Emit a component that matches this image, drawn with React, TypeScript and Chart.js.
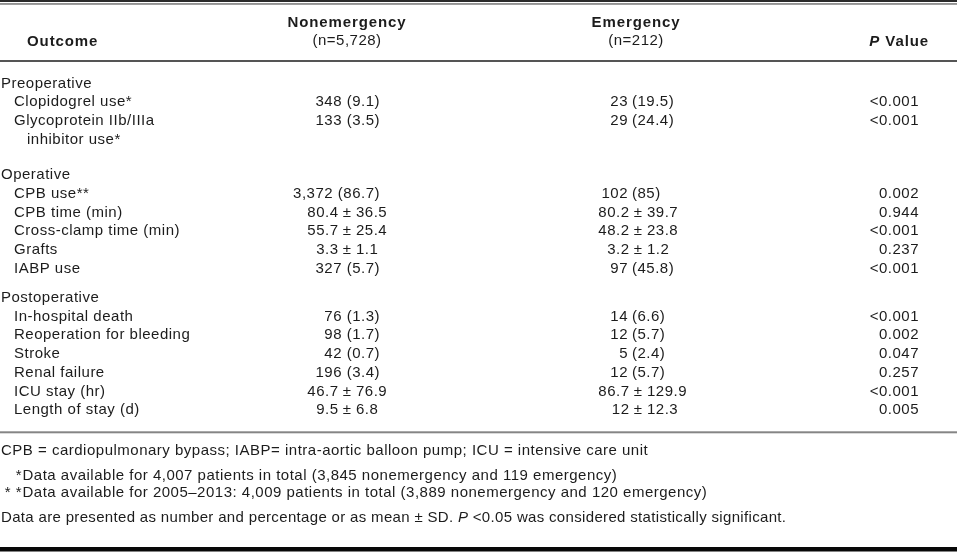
import React, { useEffect, useRef } from "react";
import { Chart, registerables } from "chart.js";

Chart.register(...registerables);

// ---- Table content ----
const columnTitles = ["Outcome", "Nonemergency", "Emergency", "P Value"];
const groupSizes = ["(n=5,728)", "(n=212)"];
const sections = ["Preoperative", "Operative", "Postoperative"];
const outcomes = [
  "Clopidogrel use*",
  "Glycoprotein IIb/IIIa|inhibitor use*",
  "CPB use**",
  "CPB time (min)",
  "Cross-clamp time (min)",
  "Grafts",
  "IABP use",
  "In-hospital death",
  "Reoperation for bleeding",
  "Stroke",
  "Renal failure",
  "ICU stay (hr)",
  "Length of stay (d)",
];
const outcomeSection = [0, 0, 1, 1, 1, 1, 1, 2, 2, 2, 2, 2, 2];
// "n" = number (percentage), "m" = mean ± SD
const outcomeKind = ["n", "n", "n", "m", "m", "m", "n", "n", "n", "n", "n", "m", "m"];
const nonEmergencyMain = [348, 133, 3372, 80.4, 55.7, 3.3, 327, 76, 98, 42, 196, 46.7, 9.5];
const nonEmergencySub = [9.1, 3.5, 86.7, 36.5, 25.4, 1.1, 5.7, 1.3, 1.7, 0.7, 3.4, 76.9, 6.8];
const emergencyMain = [23, 29, 102, 80.2, 48.2, 3.2, 97, 14, 12, 5, 12, 86.7, 12];
const emergencySub = [19.5, 24.4, 85, 39.7, 23.8, 1.2, 45.8, 6.6, 5.7, 2.4, 5.7, 129.9, 12.3];
const pValues = [
  "<0.001", "<0.001",
  "0.002", "0.944", "<0.001", "0.237", "<0.001",
  "<0.001", "0.002", "0.047", "0.257", "<0.001", "0.005",
];
const footnotes = [
  { mark: "", text: "CPB = cardiopulmonary bypass; IABP= intra-aortic balloon pump; ICU = intensive care unit" },
  { mark: "*", text: "Data available for 4,007 patients in total (3,845 nonemergency and 119 emergency)" },
  { mark: "* *", text: "Data available for 2005\u20132013: 4,009 patients in total (3,889 nonemergency and 120 emergency)" },
];
const noteBefore = "Data are presented as number and percentage or as mean \u00b1 SD. ";
const noteItalic = "P";
const noteAfter = " <0.05 was considered statistically significant.";

const fmt = (v: number) => v.toLocaleString("en-US", { maximumFractionDigits: 1 });

const FONT = '"Liberation Sans", Arial, sans-serif';
const W = 958;
const H = 552;

const tablePlugin = {
  id: "tableDraw",
  afterDraw(chart: any) {
    const ctx: CanvasRenderingContext2D = chart.ctx;
    const xs = chart.scales.x;
    const ys = chart.scales.y;
    const X = (v: number) => xs.getPixelForValue(v);
    const Y = (v: number) => ys.getPixelForValue(v);
    const ink = "#1c1c1c";

    const setFont = (style: string, ls?: number) => {
      ctx.font = style + " 15px " + FONT;
      (ctx as any).letterSpacing = (ls !== undefined ? ls : style.includes("bold") ? 0.9 : 0.5) + "px";
    };
    const text = (s: string, x: number, y: number, align: CanvasTextAlign = "left") => {
      ctx.textAlign = align;
      ctx.fillText(s, X(x), Y(y));
    };
    const rule = (y: number, h: number, color: string) => {
      ctx.fillStyle = color;
      ctx.fillRect(X(0), Y(y), X(957) - X(0), h);
    };

    ctx.save();
    ctx.textBaseline = "alphabetic";

    // rules
    rule(0, 2, "#2a2a2a");
    rule(3.2, 1.5, "#777777");
    rule(60, 2, "#555555");
    rule(431.3, 2, "#858585");
    rule(547, 4.5, "#080808");

    ctx.fillStyle = ink;
    // header
    setFont("bold");
    text(columnTitles[0], 27, 45.5);
    text(columnTitles[1], 347, 26.5, "center");
    text(columnTitles[2], 636, 26.5, "center");
    const rest = columnTitles[3].slice(1);
    const restW = ctx.measureText(rest).width;
    text(rest, 929, 45.5, "right");
    setFont("italic bold");
    text(columnTitles[3][0], 929 - restW, 45.5, "right");
    setFont("");
    text(groupSizes[0], 347, 45, "center");
    text(groupSizes[1], 636, 45, "center");

    // body
    const lh = 18.7;
    const sectionBase = [87.5, 179.3, 302];
    const lineIdx = [0, 0, 0];
    sections.forEach((s, i) => text(s, 1, sectionBase[i]));

    outcomes.forEach((label, i) => {
      const sec = outcomeSection[i];
      lineIdx[sec] += 1;
      const y = sectionBase[sec] + lineIdx[sec] * lh;
      const parts = label.split("|");
      text(parts[0], 14, y);
      for (let k = 1; k < parts.length; k++) {
        lineIdx[sec] += 1;
        text(parts[k], 27, sectionBase[sec] + lineIdx[sec] * lh);
      }

      if (outcomeKind[i] === "n") {
        text(fmt(nonEmergencyMain[i]) + " (" + fmt(nonEmergencySub[i]) + ")", 380, y, "right");
        text(fmt(emergencyMain[i]), 628, y, "right");
        text("(" + fmt(emergencySub[i]) + ")", 632, y, "left");
      } else {
        text(fmt(nonEmergencyMain[i]), 338.5, y, "right");
        text("\u00b1", 347, y, "center");
        text(fmt(nonEmergencySub[i]), 356, y, "left");
        text(fmt(emergencyMain[i]), 629.5, y, "right");
        text("\u00b1", 638, y, "center");
        text(fmt(emergencySub[i]), 647, y, "left");
      }
      text(pValues[i], 919, y, "right");
    });

    // footnotes
    const footBase = [454.5, 480, 496.7];
    footnotes.forEach((f, i) => {
      if (f.mark) {
        text(f.mark, 22, footBase[i], "right");
        text(f.text, 22.5, footBase[i]);
      } else {
        text(f.text, 1, footBase[i]);
      }
    });
    const yN = 521.7;
    setFont("", 0.33);
    text(noteBefore, 1, yN);
    let cx = 1 + ctx.measureText(noteBefore).width;
    setFont("italic", 0.33);
    text(noteItalic, cx, yN);
    cx += ctx.measureText(noteItalic).width;
    setFont("", 0.33);
    text(noteAfter, cx, yN);

    ctx.restore();
  },
};

export default function App() {
  const ref = useRef<HTMLCanvasElement | null>(null);
  useEffect(() => {
    if (!ref.current) return;
    const chart = new Chart(ref.current, {
      type: "scatter",
      data: { datasets: [] },
      options: {
        responsive: false,
        animation: false,
        devicePixelRatio: 1,
        layout: { padding: 0 },
        plugins: { legend: { display: false }, tooltip: { enabled: false } },
        scales: {
          x: { type: "linear", display: false, min: 0, max: W },
          y: { type: "linear", display: false, min: 0, max: H, reverse: true },
        },
      },
      plugins: [tablePlugin],
    });
    return () => chart.destroy();
  }, []);
  return (
    <div style={{ position: "fixed", left: 0, top: 0, width: W, height: H, background: "#fff" }}>
      <canvas ref={ref} width={W} height={H} style={{ width: W, height: H, display: "block" }} />
    </div>
  );
}
